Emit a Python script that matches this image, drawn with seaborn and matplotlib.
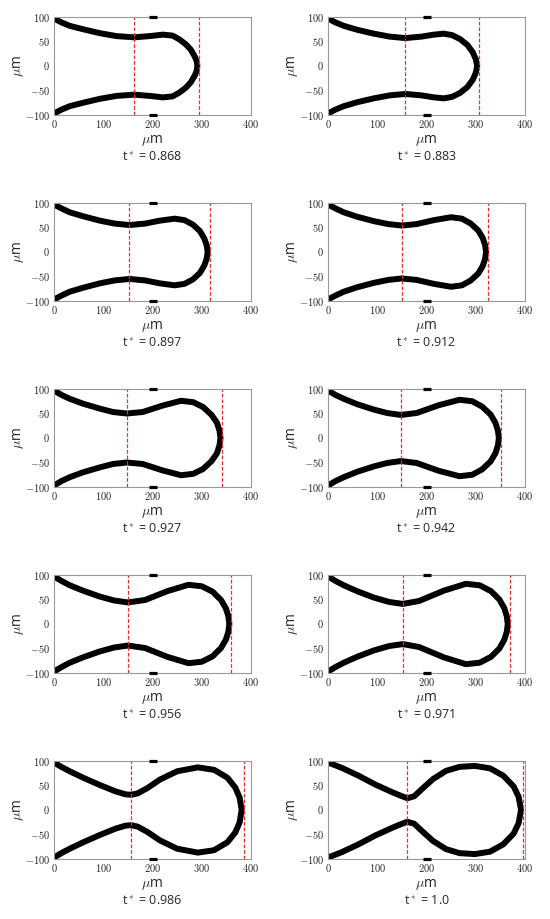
import numpy as np
import pandas as pd
import matplotlib
matplotlib.use('Agg')
import matplotlib.pyplot as plt
import seaborn as sns
from matplotlib.ticker import FuncFormatter

sns.set_style('white')
plt.rcParams['font.family'] = ['Open Sans', 'DejaVu Sans']
plt.rcParams['mathtext.fontset'] = 'cm'

# dimensionless times shown under each panel
t_labels = ['0.868', '0.883', '0.897', '0.912', '0.927',
            '0.942', '0.956', '0.971', '0.986', '1.0']

# neck position and tip position (red dashed lines), in um
neck_x = [163, 157, 153, 150, 148, 148, 150, 152, 157, 161]
tip_x = [295, 307, 316, 325, 342, 351, 360, 369, 385, 395]

# upper interface contour (lower half is its mirror)
upper_x = [
    [0, 15, 32, 59, 93, 127, 163, 194, 221, 241, 255, 268, 278, 286, 290, 291],
    [0, 15, 32, 59, 93, 125, 157, 190, 215, 235, 252, 268, 283, 294, 300, 303],
    [0, 15, 32, 59, 93, 123, 153, 185, 215, 245, 265, 282, 296, 305, 310, 312],
    [0, 15, 32, 59, 93, 122, 150, 180, 215, 250, 272, 290, 305, 314, 319, 321],
    [0, 15, 32, 59, 93, 120, 148, 180, 220, 258, 283, 303, 320, 331, 336, 338],
    [0, 15, 32, 59, 93, 120, 148, 180, 225, 267, 293, 313, 330, 340, 345, 347],
    [0, 15, 32, 59, 93, 122, 150, 185, 230, 273, 300, 322, 339, 349, 354, 356],
    [0, 15, 32, 59, 93, 124, 152, 185, 235, 280, 308, 331, 348, 358, 363, 365],
    [0, 15, 32, 59, 93, 125, 145, 157, 170, 190, 215, 250, 292, 325, 352, 368, 377, 381],
    [0, 28, 62, 96, 131, 148, 161, 175, 192, 213, 240, 267, 298, 329, 356, 377, 387, 392],
]
upper_y = [
    [97, 89, 82, 75, 67, 61, 58.5, 61, 64, 62, 54, 44, 33, 19, 9, 0],
    [97, 89, 82, 74, 66, 60, 57, 60, 64, 66, 63, 55, 43, 28, 14, 0],
    [97, 89, 81, 73, 64, 58, 55, 58, 64, 68, 65, 56, 43, 28, 14, 0],
    [97, 89, 81, 72, 63, 57, 54, 57, 65, 71, 68, 58, 44, 29, 14, 0],
    [97, 88, 80, 70, 60, 53, 50, 53, 66, 76, 73, 63, 47, 31, 15, 0],
    [97, 88, 80, 69, 58, 51, 47, 51, 67, 78, 75, 64, 48, 31, 15, 0],
    [97, 88, 79, 68, 56, 48, 44, 49, 67, 80, 77, 66, 49, 32, 16, 0],
    [97, 88, 79, 67, 54, 45, 41, 47, 68, 82, 79, 67, 50, 32, 16, 0],
    [97, 88, 79, 66, 51, 38, 32, 31, 34, 45, 62, 79, 87, 82, 66, 46, 25, 0],
    [97, 86, 70, 52, 36, 29, 24, 28, 44, 63, 80, 88, 90, 85, 70, 48, 27, 0],
]

W, H = 550, 919
fig = plt.figure(figsize=(W / 100, H / 100), dpi=100)

col_left = [54, 328]
ax_w, ax_h = 197, 98
row_top = [17, 203, 389, 575, 761]

fmt = FuncFormatter(lambda v, p: f'${v:g}$')

for i in range(10):
    r, c = divmod(i, 2)
    left = col_left[c]
    top = row_top[r]
    ax = fig.add_axes([left / W, 1 - (top + ax_h) / H, ax_w / W, ax_h / H])

    ux, uy = upper_x[i], upper_y[i]
    xs = ux + ux[::-1][1:]
    ys = uy + [-v for v in uy[::-1][1:]]
    df = pd.DataFrame({'x': xs, 'y': ys})
    sns.lineplot(data=df, x='x', y='y', sort=False, estimator=None, ax=ax,
                 color='black', linewidth=4.3, solid_capstyle='round',
                 solid_joinstyle='round')

    ax.axvline(neck_x[i], color='#e8302a', lw=0.9, ls=(0, (3, 1.5)))
    ax.axvline(tip_x[i], color='#e8302a', lw=0.9, ls=(0, (3, 1.5)))

    # short wall marks at x ~ 200
    for yy in (100, -100):
        ax.plot([193, 210], [yy, yy], color='black', lw=2.3, clip_on=False,
                solid_capstyle='butt', zorder=5)

    ax.set_xlim(0, 400)
    ax.set_ylim(-100, 100)
    ax.set_xticks([0, 100, 200, 300, 400])
    ax.set_yticks([-100, -50, 0, 50, 100])
    ax.xaxis.set_major_formatter(fmt)
    ax.yaxis.set_major_formatter(fmt)
    ax.tick_params(labelsize=7.5, length=1.5, pad=1.5, color='#888888')
    for s in ax.spines.values():
        s.set_color('#999999')
        s.set_linewidth(0.8)
    ax.set_xlabel(r'$\mu$m', fontsize=10, labelpad=1)
    ax.set_ylabel(r'$\mu$m', fontsize=10, labelpad=-1)

    fig.text((left + ax_w / 2) / W, 1 - (top + ax_h + 42) / H,
             r't$^*$ = ' + t_labels[i], ha='center', va='center', fontsize=9)

fig.savefig('out.png', dpi=100)
